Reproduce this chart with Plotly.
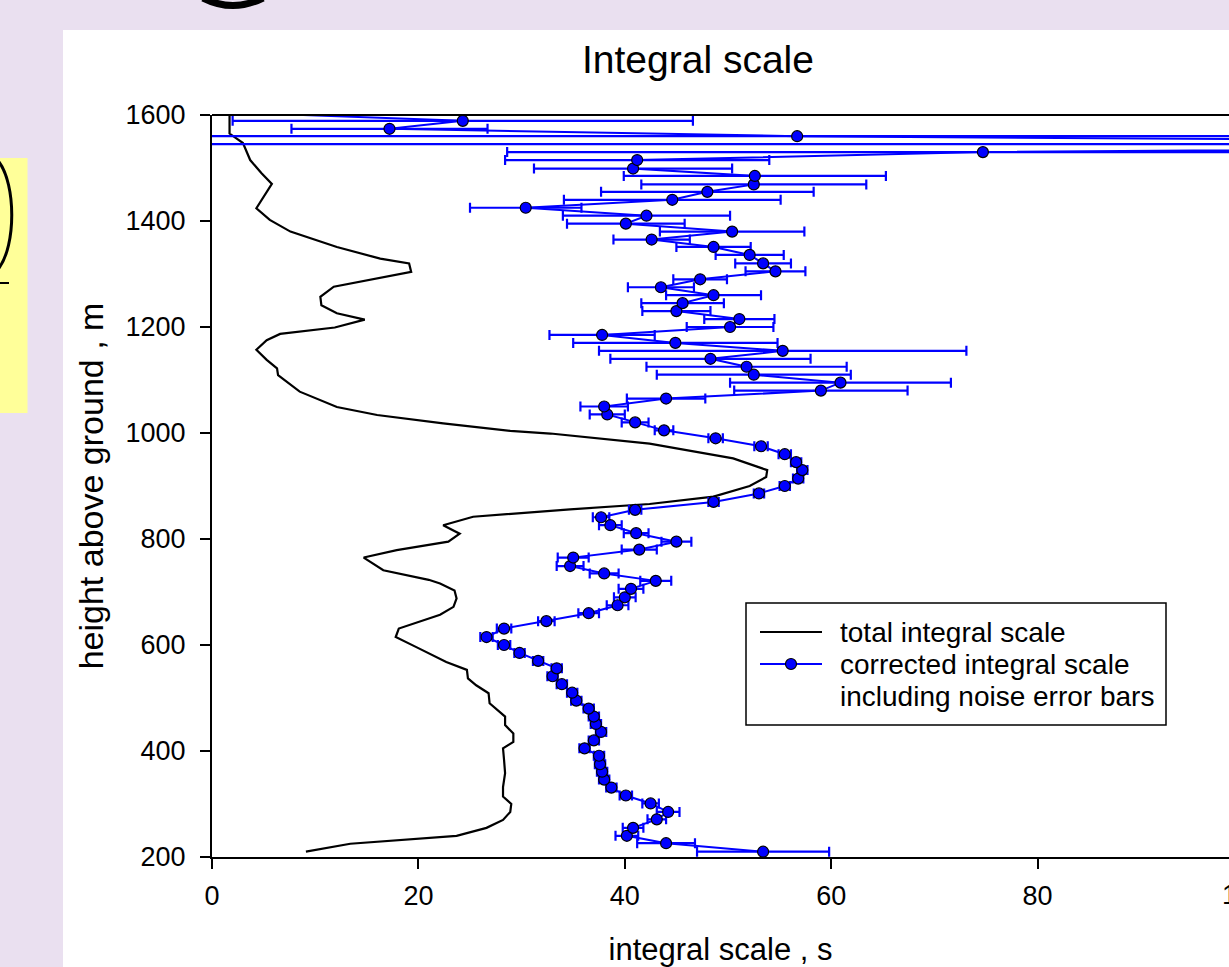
import plotly.graph_objects as go

# ---------------- data ----------------
corr_height = [210, 226, 240, 255, 271, 285, 301, 316, 331, 346,
               361, 375, 391, 405, 420, 436, 451, 465, 480, 495,
               510, 526, 541, 556, 570, 585, 600, 615, 631, 645,
               660, 675, 690, 706, 721, 735, 749, 765, 780, 795,
               811, 826, 841, 855, 870, 886, 900, 914, 930, 945,
               960, 975, 990, 1005, 1020, 1035, 1050, 1065, 1080, 1095,
               1110, 1125, 1140, 1155, 1170, 1185, 1200, 1215, 1230, 1245,
               1260, 1275, 1290, 1305, 1320, 1336, 1351, 1365, 1380, 1395,
               1410, 1425, 1440, 1455, 1469, 1485, 1499, 1515, 1530, 1545,
               1560, 1574, 1589, 1619]
corr_scale = [53.4, 44.0, 40.2, 40.8, 43.1, 44.2, 42.5, 40.1, 38.7, 38.0,
              37.8, 37.6, 37.5, 36.1, 37.0, 37.7, 37.2, 37.0, 36.5, 35.3,
              34.9, 33.9, 33.0, 33.4, 31.6, 29.8, 28.3, 26.6, 28.3, 32.4,
              36.5, 39.3, 40.0, 40.6, 43.0, 38.0, 34.7, 35.0, 41.4, 45.0,
              41.1, 38.6, 37.7, 41.0, 48.6, 53.0, 55.5, 56.8, 57.2, 56.6,
              55.5, 53.2, 48.8, 43.8, 41.0, 38.3, 38.0, 44.0, 59.0, 60.9,
              52.5, 51.8, 48.3, 55.3, 44.9, 37.8, 50.2, 51.1, 45.0, 45.6,
              48.6, 43.5, 47.3, 54.6, 53.4, 52.1, 48.6, 42.6, 50.4, 40.1,
              42.1, 30.4, 44.6, 48.0, 52.5, 52.6, 40.8, 41.2, 74.7, 175.0,
              56.7, 17.2, 24.3, -18.0]
corr_error = [6.4, 2.8, 1.1, 1.0, 0.9, 1.1, 0.8, 0.6, 0.5, 0.5,
              0.5, 0.5, 0.5, 0.5, 0.5, 0.5, 0.5, 0.5, 0.5, 0.5,
              0.5, 0.5, 0.5, 0.5, 0.5, 0.5, 0.6, 0.6, 0.7, 0.8,
              1.0, 1.05, 1.05, 1.2, 1.5, 1.4, 1.3, 1.5, 1.7, 1.45,
              1.2, 1.1, 0.8, 0.6, 0.5, 0.5, 0.5, 0.5, 0.5, 0.5,
              0.6, 0.65, 0.7, 0.9, 1.3, 1.7, 2.3, 3.8, 8.4, 10.7,
              9.4, 9.7, 9.7, 17.8, 9.9, 5.1, 4.2, 3.4, 3.3, 4.0,
              4.6, 3.2, 2.6, 2.9, 2.7, 3.3, 3.6, 3.7, 7.0, 5.7,
              8.1, 5.4, 10.5, 10.3, 10.9, 12.7, 9.6, 12.8, 46.1, 200.0,
              80.0, 9.5, 22.3, 3.0]

total_height = [210, 225, 240, 255, 270, 285, 300, 314, 332, 358,
                383, 405, 417, 433, 449, 465, 490, 509, 524, 537,
                553, 568, 596, 615, 631, 638, 657, 672, 688, 703,
                716, 723, 741, 765, 779, 795, 810, 826, 842, 856,
                866, 880, 900, 917, 930, 952, 980, 999, 1004, 1018,
                1034, 1049, 1078, 1109, 1122, 1138, 1157, 1175, 1187, 1199,
                1214, 1226, 1241, 1257, 1276, 1304, 1320, 1329, 1351, 1380,
                1402, 1424, 1470, 1490, 1515, 1547, 1565, 1600]
total_scale = [9.1, 13.4, 23.7, 26.6, 28.2, 28.9, 29.0, 28.2, 28.2, 28.4,
               28.3, 28.2, 29.2, 29.2, 28.4, 28.4, 26.9, 26.8, 25.6, 24.8,
               24.7, 22.7, 19.8, 17.8, 18.1, 19.2, 22.1, 23.4, 23.7, 23.5,
               22.1, 21.0, 16.6, 14.7, 17.9, 22.9, 24.0, 22.4, 25.3, 34.7,
               42.4, 48.6, 52.1, 53.7, 53.8, 50.5, 42.4, 32.8, 28.9, 22.4,
               16.0, 12.1, 8.5, 6.4, 6.3, 5.3, 4.3, 5.3, 6.6, 11.9,
               14.8, 12.1, 10.6, 10.5, 11.8, 19.3, 19.1, 16.3, 12.1, 7.6,
               5.6, 4.3, 5.8, 4.8, 3.7, 3.0, 1.7, 1.7]

x_ticks = [0, 20, 40, 60, 80]
y_ticks = [200, 400, 600, 800, 1000, 1200, 1400, 1600]

title_text = "Integral scale"
x_label = "integral scale , s"
y_label = "height above ground , m"
legend_total = "total integral scale"
legend_corr_1 = "corrected integral scale"
legend_corr_2 = "including noise error bars"

# ---------------- layout geometry ----------------
W, H = 1229, 967
L, R, T, B = 212, 0, 115, 110
PW, PH = W - L - R, H - T - B


def px(x):
    return (x - L) / PW


def py(y):
    return (H - B - y) / PH


FONT = "Liberation Sans, Arial, sans-serif"
BLUE = "#0000FF"

fig = go.Figure()

fig.add_trace(go.Scatter(
    x=total_scale, y=total_height, mode="lines",
    line=dict(color="black", width=2.2),
    name=legend_total, showlegend=False,
))

fig.add_trace(go.Scatter(
    x=corr_scale, y=corr_height, mode="lines+markers",
    line=dict(color=BLUE, width=2),
    marker=dict(symbol="circle", size=11, color=BLUE,
                line=dict(color="black", width=1.2)),
    error_x=dict(type="data", array=corr_error, visible=True,
                 color=BLUE, thickness=2.2, width=5),
    name=legend_corr_1 + " " + legend_corr_2, showlegend=False,
))

# legend box geometry (pixels)
LG_X0, LG_X1, LG_Y0, LG_Y1 = 746, 1166, 603, 725
ROW1, ROW2, ROW3 = 632, 664, 696
SYM_X0, SYM_X1, TXT_X = 760, 822, 838

shapes = [
    # white slide panel
    dict(type="rect", xref="paper", yref="paper",
         x0=px(63), x1=px(W + 5), y0=py(30), y1=py(H + 5),
         fillcolor="white", line=dict(width=0), layer="below"),
    # yellow box at left
    dict(type="rect", xref="paper", yref="paper",
         x0=px(-2), x1=px(27.5), y0=py(158), y1=py(413),
         fillcolor="#FFFF99", line=dict(width=0), layer="below"),
    # top frame line of plot
    dict(type="line", xref="paper", yref="paper",
         x0=0, x1=1, y0=1, y1=1, line=dict(color="black", width=2)),
    # ")" glyph in yellow box
    dict(type="path", xref="paper", yref="paper",
         path=f"M {px(-1)},{py(162)} C {px(16)},{py(185)} {px(16)},{py(245)} {px(-1)},{py(268)}",
         line=dict(color="black", width=3)),
    dict(type="line", xref="paper", yref="paper",
         x0=px(0), x1=px(9), y0=py(283), y1=py(283),
         line=dict(color="black", width=2)),
    # descender of a large "g" at the top edge
    dict(type="path", xref="paper", yref="paper",
         path=f"M {px(203)},{py(-2)} Q {px(233)},{py(13)} {px(263)},{py(-2)}",
         line=dict(color="black", width=7)),
    # legend box
    dict(type="rect", xref="paper", yref="paper",
         x0=px(LG_X0), x1=px(LG_X1), y0=py(LG_Y1), y1=py(LG_Y0),
         fillcolor="white", line=dict(color="black", width=1.5)),
    dict(type="line", xref="paper", yref="paper",
         x0=px(SYM_X0), x1=px(SYM_X1), y0=py(ROW1), y1=py(ROW1),
         line=dict(color="black", width=2)),
    dict(type="line", xref="paper", yref="paper",
         x0=px(SYM_X0), x1=px(SYM_X1), y0=py(ROW2), y1=py(ROW2),
         line=dict(color=BLUE, width=2)),
    dict(type="circle", xref="paper", yref="paper",
         x0=px(791 - 5.5), x1=px(791 + 5.5), y0=py(ROW2 + 5.5), y1=py(ROW2 - 5.5),
         fillcolor=BLUE, line=dict(color="black", width=1.2)),
]


def legend_text(text, y):
    return dict(text=text, xref="paper", yref="paper",
                x=px(TXT_X), y=py(y), xanchor="left", yanchor="middle",
                showarrow=False,
                font=dict(family=FONT, size=28, color="black"))


annotations = [
    dict(text=title_text, xref="paper", yref="paper",
         x=px(698), y=py(59), xanchor="center", yanchor="middle",
         showarrow=False, font=dict(family=FONT, size=39, color="black")),
    dict(text="100", xref="paper", yref="paper",
         x=px(1244), y=py(895), xanchor="center", yanchor="middle",
         showarrow=False, font=dict(family=FONT, size=27, color="black")),
    legend_text(legend_total, ROW1),
    legend_text(legend_corr_1, ROW2),
    legend_text(legend_corr_2, ROW3),
]

fig.update_layout(
    width=W, height=H, autosize=False,
    margin=dict(l=L, r=R, t=T, b=B, pad=0),
    paper_bgcolor="#EAE0F0",
    plot_bgcolor="rgba(0,0,0,0)",
    font=dict(family=FONT, size=27, color="black"),
    shapes=shapes,
    annotations=annotations,
    showlegend=False,
    xaxis=dict(
        range=[0, 100 * PW / (1244 - L)],
        tickmode="array", tickvals=x_ticks,
        ticks="outside", ticklen=10, tickwidth=2, tickcolor="black",
        showline=True, linewidth=2, linecolor="black", mirror=False,
        showgrid=False, zeroline=False,
        tickfont=dict(family=FONT, size=27, color="black"),
        title=dict(text=x_label, standoff=33,
                   font=dict(family=FONT, size=31, color="black")),
        ticklabelstandoff=4,
    ),
    yaxis=dict(
        range=[200, 1600],
        tickmode="array", tickvals=y_ticks,
        ticks="outside", ticklen=10, tickwidth=2, tickcolor="black",
        showline=True, linewidth=2, linecolor="black", mirror=False,
        showgrid=False, zeroline=False,
        tickfont=dict(family=FONT, size=27, color="black"),
        title=dict(text=y_label, standoff=12,
                   font=dict(family=FONT, size=34, color="black")),
        ticklabelstandoff=9,
    ),
)

fig.write_html("out.html", config={"displayModeBar": False})
